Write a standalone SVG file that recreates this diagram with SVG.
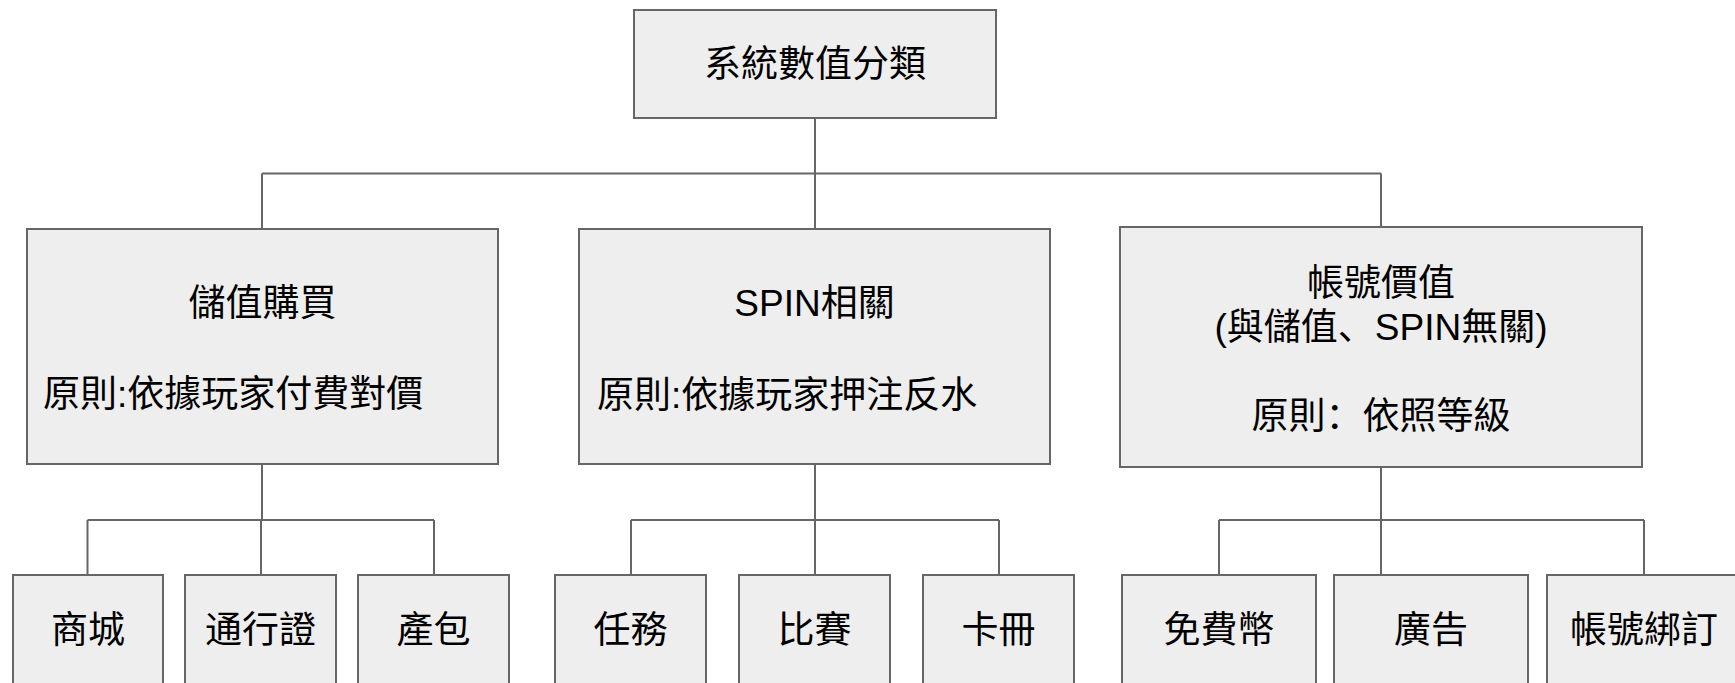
<svg xmlns="http://www.w3.org/2000/svg" width="1735" height="683" viewBox="0 0 1735 683">
<style>
.box{fill:#eeeeee;stroke:#666666;stroke-width:2}
.t{font-family:"Liberation Sans","Noto Sans CJK SC",sans-serif;font-size:37px;fill:#000000}
.c{text-anchor:middle}
.ln{fill:none;stroke:#666666;stroke-width:2}
</style>
<rect width="1735" height="683" fill="#ffffff"/>
<g id="connectors">
<path class="ln" d="M815,118 V229 M262,173.5 H1381 M262,173.5 V229 M1381,173.5 V227"/>
<path class="ln" d="M262,464 V520 M87.5,520 H434 M87.5,520 V575 M261,520 V575 M434,520 V575"/>
<path class="ln" d="M815,464 V575 M631,520 H999 M631,520 V575 M999,520 V575"/>
<path class="ln" d="M1381,467 V575 M1219,520 H1644 M1219,520 V575 M1644,520 V575"/>
</g>
<g id="root">
<rect class="box" x="634" y="10" width="362" height="108"/>
<text class="t c" x="815" y="77">系統數值分類</text>
</g>
<g id="n-chuzhi">
<rect class="box" x="27" y="229" width="471" height="235"/>
<text class="t c" x="262.5" y="316">儲值購買</text>
<text class="t" x="43" y="407">原則:依據玩家付費對價</text>
</g>
<g id="n-spin">
<rect class="box" x="579" y="229" width="471" height="235"/>
<text class="t c" x="814.5" y="316">SPIN相關</text>
<text class="t" x="597" y="408">原則:依據玩家押注反水</text>
</g>
<g id="n-account">
<rect class="box" x="1120" y="227" width="522" height="240"/>
<text class="t c" x="1381" y="296">帳號價值</text>
<text class="t c" x="1381" y="340">(與儲值、SPIN無關)</text>
<text class="t c" x="1381" y="429">原則：依照等級</text>
</g>
<g id="leaf-shop">
<rect class="box" x="13" y="575" width="150" height="130"/>
<text class="t c" x="88" y="643">商城</text>
</g>
<g id="leaf-pass">
<rect class="box" x="185" y="575" width="151" height="130"/>
<text class="t c" x="260.5" y="643">通行證</text>
</g>
<g id="leaf-pack">
<rect class="box" x="358" y="575" width="151" height="130"/>
<text class="t c" x="433.5" y="643">產包</text>
</g>
<g id="leaf-task">
<rect class="box" x="555" y="575" width="151" height="130"/>
<text class="t c" x="630.5" y="643">任務</text>
</g>
<g id="leaf-match">
<rect class="box" x="739" y="575" width="151" height="130"/>
<text class="t c" x="814.5" y="643">比賽</text>
</g>
<g id="leaf-card">
<rect class="box" x="923" y="575" width="151" height="130"/>
<text class="t c" x="998.5" y="643">卡冊</text>
</g>
<g id="leaf-free">
<rect class="box" x="1122" y="575" width="194" height="130"/>
<text class="t c" x="1219" y="643">免費幣</text>
</g>
<g id="leaf-ad">
<rect class="box" x="1334" y="575" width="194" height="130"/>
<text class="t c" x="1431" y="643">廣告</text>
</g>
<g id="leaf-bind">
<rect class="box" x="1547" y="575" width="194" height="130"/>
<text class="t c" x="1644" y="643">帳號綁訂</text>
</g>
</svg>
